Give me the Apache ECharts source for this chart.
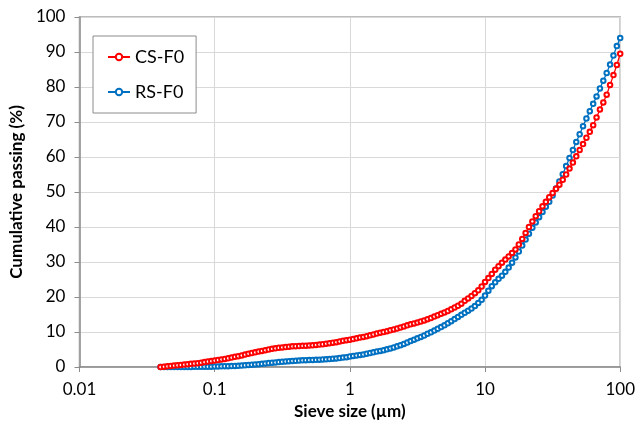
<!DOCTYPE html>
<html>
<head>
<meta charset="utf-8">
<script src="https://cdn.jsdelivr.net/npm/echarts@6/dist/echarts.min.js"></script>
<style>
html,body{margin:0;padding:0;background:#fff;}
#chart{width:638px;height:425px;}
</style>
</head>
<body>
<div id="chart"></div>
<script>
const sieveSize = [
0.0398,0.0422,0.0447,0.0473,0.0501,0.0531,0.0562,0.0596,0.0631,0.0668,0.0708,0.0750,0.0794,0.0841,0.0891,0.0944,
0.1,0.1059,0.1122,0.1189,0.1259,0.1334,0.1413,0.1496,0.1585,0.1679,0.1778,0.1884,0.1995,0.2113,0.2239,0.2371,0.2512,0.2661,0.2818,0.2985,
0.3162,0.3350,0.3548,0.3758,0.3981,0.4217,0.4467,0.4732,0.5012,0.5309,0.5623,0.5957,0.6310,0.6683,0.7079,0.7499,0.7943,0.8414,0.8913,0.9441,
1,1.059,1.122,1.189,1.259,1.334,1.413,1.496,1.585,1.679,1.778,1.884,1.995,2.113,2.239,2.371,2.512,2.661,2.818,2.985,
3.162,3.350,3.548,3.758,3.981,4.217,4.467,4.732,5.012,5.309,5.623,5.957,6.310,6.683,7.079,7.499,7.943,8.414,8.913,9.441,
10,10.59,11.22,11.89,12.59,13.34,14.13,14.96,15.85,16.79,17.78,18.84,19.95,21.13,22.39,23.71,25.12,26.61,28.18,29.85,
31.62,33.50,35.48,37.58,39.81,42.17,44.67,47.32,50.12,53.09,56.23,59.57,63.10,66.83,70.79,74.99,79.43,84.14,89.13,94.41,
100
];
const csF0 = [
0.0,0.1,0.2,0.3,0.4,0.5,0.6,0.7,0.8,0.9,1.0,1.1,1.25,1.4,1.55,1.7,
1.85,2.0,2.15,2.3,2.5,2.7,2.9,3.1,3.3,3.55,3.8,4.0,4.2,4.4,4.6,4.8,5.0,5.2,5.35,5.5,
5.6,5.7,5.8,5.9,5.95,6.0,6.05,6.1,6.15,6.2,6.3,6.4,6.5,6.65,6.8,6.95,7.1,7.3,7.5,7.65,
7.8,8.0,8.2,8.4,8.6,8.8,9.05,9.3,9.55,9.8,10.0,10.25,10.5,10.75,11.0,11.3,11.6,11.9,12.2,12.45,
12.7,13.0,13.3,13.65,14.0,14.4,14.8,15.2,15.6,16.0,16.5,17.0,17.5,18.1,18.9,19.6,20.3,21.1,21.9,23.0,
24.3,25.4,26.6,27.8,28.8,29.8,30.7,31.6,32.6,33.6,35.0,36.6,38.3,40.0,41.6,43.1,44.5,45.9,47.2,48.5,
49.7,50.9,52.1,53.5,55.0,56.7,58.4,60.2,62.0,63.7,65.5,67.2,69.1,71.3,73.6,75.6,77.8,80.6,83.4,86.3,
89.5
];
const rsF0 = [
0,0,0,0,0,0,0,0,0,0,0.05,0.05,0.05,0.1,0.1,0.1,
0.15,0.17,0.2,0.22,0.25,0.27,0.3,0.35,0.42,0.5,0.58,0.66,0.74,0.82,0.92,1.02,1.12,1.22,1.32,1.42,
1.5,1.58,1.65,1.72,1.78,1.84,1.9,1.94,1.98,2.02,2.06,2.1,2.15,2.2,2.28,2.36,2.45,2.55,2.68,2.82,
3.0,3.15,3.3,3.45,3.6,3.8,4.0,4.2,4.4,4.6,4.8,5.05,5.3,5.6,5.9,6.25,6.6,7.0,7.4,7.8,
8.2,8.6,9.0,9.5,9.9,10.4,10.9,11.4,11.9,12.5,13.1,13.7,14.3,14.9,15.5,16.1,16.7,17.4,18.3,19.2,
20.4,21.8,23.1,24.2,25.2,26.1,27.2,28.4,29.8,31.3,33.0,34.7,36.4,38.1,39.8,41.3,42.8,44.3,45.8,47.2,
49.0,51.0,53.0,55.1,57.4,59.7,62.0,64.3,66.5,68.8,71.0,73.1,75.2,77.3,79.6,81.8,84.0,86.4,89.0,91.7,
94.0
];
const seriesNames = ['CS-F0','RS-F0'];
const seriesColors = ['#FF0000','#0070C0'];
const xTitle = 'Sieve size (\u00b5m)';
const yTitle = 'Cumulative passing (%)';

const font = 'Lato, Calibri, "Liberation Sans", sans-serif';
const chart = echarts.init(document.getElementById('chart'), null, {renderer:'canvas'});
function pairs(ys){ return sieveSize.map((x,i)=>[x, ys[i]]); }
function mkSeries(i, ys, z){
  return {name:seriesNames[i], type:'line', data:pairs(ys), symbol:'emptyCircle', symbolSize:4.5,
    color:seriesColors[i], lineStyle:{width:1.3,color:seriesColors[i],type:'solid'},
    itemStyle:{color:seriesColors[i],borderWidth:1}, z:z};
}
chart.setOption({
  animation:false,
  backgroundColor:'#fff',
  grid:{left:76,right:15,top:17,bottom:57,show:true,borderColor:'#a6a6a6',borderWidth:1.5},
  legend:{
    orient:'vertical', left:93, top:36,
    padding:[12,12,12,14],
    itemGap:17,
    itemWidth:22, itemHeight:8,
    backgroundColor:'#fff', borderColor:'#8c8c8c', borderWidth:1,
    textStyle:{fontFamily:font, fontSize:18, color:'#000'},
    data:seriesNames
  },
  xAxis:{
    type:'log', logBase:10, min:0.01, max:100,
    name:xTitle, nameLocation:'middle', nameGap:36,
    nameTextStyle:{fontFamily:font, fontSize:17, fontWeight:'bold', color:'#000'},
    axisLine:{lineStyle:{color:'#8c8c8c',width:1.5}},
    axisTick:{show:true,length:5,lineStyle:{color:'#8c8c8c'}},
    axisLabel:{fontFamily:font, fontSize:17, color:'#000', margin:14,
      formatter:function(v){ return String(+v.toPrecision(3)); }},
    splitLine:{show:true,lineStyle:{color:'#d9d9d9',width:1}},
    minorTick:{show:false}
  },
  yAxis:{
    type:'value', min:0, max:100, interval:10,
    name:yTitle, nameLocation:'middle', nameGap:47, nameRotate:90,
    nameTextStyle:{fontFamily:font, fontSize:17, fontWeight:'bold', color:'#000'},
    axisLine:{show:true,lineStyle:{color:'#8c8c8c',width:1.5}},
    axisTick:{show:true,length:5,lineStyle:{color:'#8c8c8c'}},
    axisLabel:{fontFamily:font, fontSize:17, color:'#000', margin:14},
    splitLine:{show:true,lineStyle:{color:'#d9d9d9',width:1}}
  },
  series:[ mkSeries(0, csF0, 3), mkSeries(1, rsF0, 2) ]
});
</script>
</body>
</html>
